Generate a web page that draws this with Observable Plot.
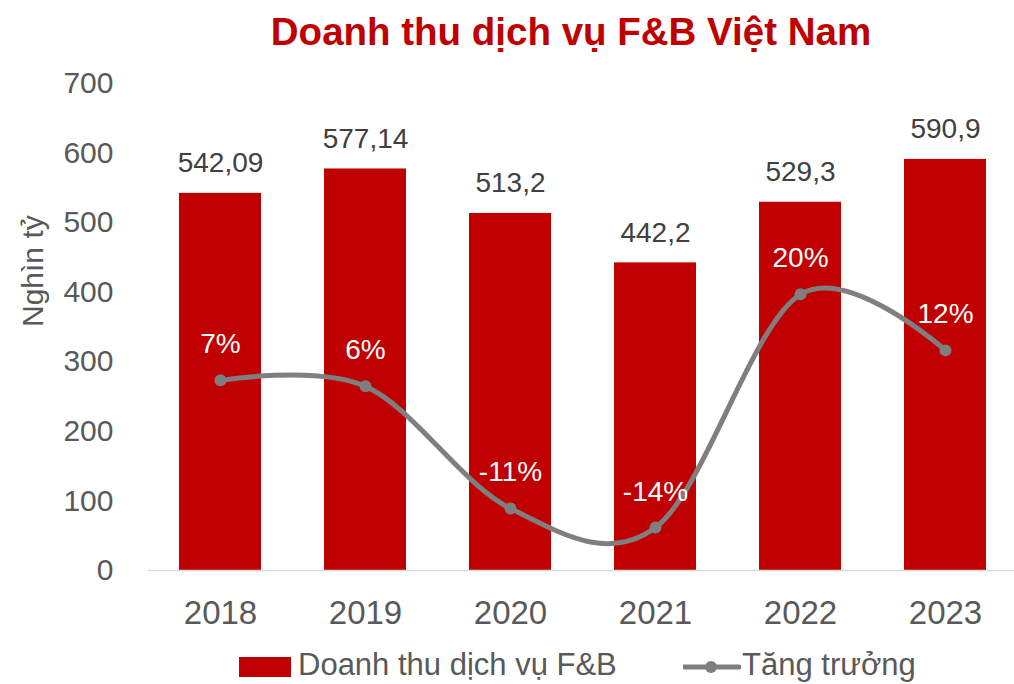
<!DOCTYPE html>
<html>
<head>
<meta charset="utf-8">
<script src="https://cdn.jsdelivr.net/npm/d3@7"></script>
<script src="https://cdn.jsdelivr.net/npm/@observablehq/plot@0.6"></script>
<style>
  html, body { margin: 0; padding: 0; background: #fff; }
  #wrap { position: relative; width: 1014px; height: 684px; overflow: hidden; font-family: "Liberation Sans", Arial, sans-serif; }
  #title { position: absolute; top: 0; left: 128px; width: 886px; height: 62px; line-height: 64px; text-align: center; font-size: 38.5px; font-weight: bold; color: #C00000; }
  #chart { position: absolute; top: 62px; left: 0; }
  .lg-text { position: absolute; top: 649px; font-size: 31px; line-height: 31px; color: #595959; white-space: nowrap; }
  .lg-swatch { position: absolute; left: 239px; top: 657px; width: 52px; height: 20px; background: #C00000; }
  #lg-line { position: absolute; left: 683px; top: 655px; }
</style>
</head>
<body>
<div id="wrap">
  <div id="title">Doanh thu dịch vụ F&amp;B Việt Nam</div>
  <div id="chart"></div>
  <div class="lg-swatch"></div>
  <div class="lg-text" style="left:298px">Doanh thu dịch vụ F&amp;B</div>
  <svg id="lg-line" width="58" height="24"><line x1="0" y1="12" x2="56" y2="12" stroke="#7F7F7F" stroke-width="5" stroke-linecap="round"/><circle cx="28" cy="12" r="6" fill="#7F7F7F"/></svg>
  <div class="lg-text" style="left:742px">Tăng trưởng</div>
</div>
<script>
const years = ["2018", "2019", "2020", "2021", "2022", "2023"];
const revenue = [542.09, 577.14, 513.2, 442.2, 529.3, 590.9];
const revenueLabels = ["542,09", "577,14", "513,2", "442,2", "529,3", "590,9"];
const growth = [7.33, 6.47, -11.08, -13.83, 19.70, 11.64];
const growthLabels = ["7%", "6%", "-11%", "-14%", "20%", "12%"];
const yTicks = [0, 100, 200, 300, 400, 500, 600, 700];
// secondary (hidden) axis for growth, in %
const growthAxis = [-20, 50];

const yMax = 700;
const toPrimary = g => (g - growthAxis[0]) / (growthAxis[1] - growthAxis[0]) * yMax;

const data = years.map((y, i) => ({
  year: y,
  revenue: revenue[i],
  revLabel: revenueLabels[i],
  growth: growth[i],
  growthY: toPrimary(growth[i]),
  growthLabel: growthLabels[i]
}));

const chart = Plot.plot({
  width: 1014,
  height: 586,
  marginLeft: 148,
  marginRight: -4,
  marginTop: 21,
  marginBottom: 78,
  style: { fontFamily: "'Liberation Sans', Arial, sans-serif", fontSize: "30px", color: "#595959", background: "transparent", overflow: "visible" },
  x: { domain: years, paddingInner: 0.434, paddingOuter: 0.217, label: null },
  y: { domain: [0, yMax], label: null },
  marks: [
    Plot.barY(data, { x: "year", y: "revenue", fill: "#C00000" }),
    Plot.ruleY([0], { stroke: "#D9D9D9", strokeWidth: 1.5 }),
    Plot.line(data, { x: "year", y: "growthY", stroke: "#7F7F7F", strokeWidth: 5, curve: "cardinal", tension: 0, strokeLinecap: "round" }),
    Plot.dot(data, { x: "year", y: "growthY", r: 6, fill: "#7F7F7F" }),
    Plot.text(data, { x: "year", y: "revenue", text: "revLabel", dy: -30, fill: "#404040", fontSize: 28 }),
    Plot.text(data, { x: "year", y: "growthY", text: "growthLabel", dy: -36, fill: "#FFFFFF", fontSize: 28 }),
    Plot.axisY({ ticks: yTicks, tickSize: 0, tickPadding: 35, fontSize: 30, label: null, fill: "#595959" }),
    Plot.axisX({ tickSize: 0, tickPadding: 30, fontSize: 33, label: null, fill: "#595959" }),
    Plot.text(["Nghìn tỷ"], { frameAnchor: "left", rotate: -90, dx: -115, fontSize: 30, fill: "#595959" })
  ]
});
document.getElementById("chart").appendChild(chart);
</script>
</body>
</html>
